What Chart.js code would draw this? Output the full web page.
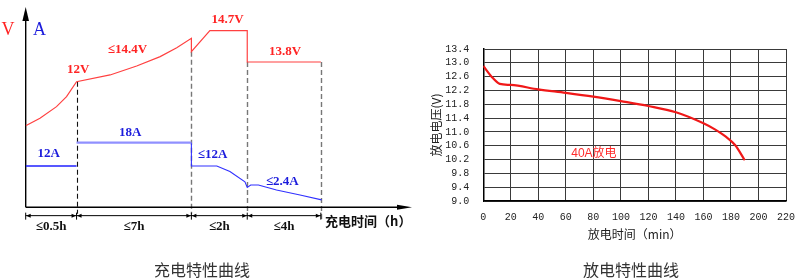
<!DOCTYPE html>
<html>
<head>
<meta charset="utf-8">
<script src="https://cdn.jsdelivr.net/npm/chart.js@4.4.0/dist/chart.umd.min.js"></script>
<style>
  body { margin: 0; background: #fff; width: 795px; height: 280px; position: relative; overflow: hidden; }
  #charge { position: absolute; left: 0; top: 0; }
  #discharge { position: absolute; left: 420px; top: 0; }
  .cap { position: absolute; top: 257px; font: 16px "Noto Sans CJK SC"; color: #333; transform: translateX(-50%); white-space: nowrap; }
</style>
</head>
<body>
<canvas id="charge" width="420" height="280"></canvas>
<canvas id="discharge" width="375" height="280"></canvas>
<div class="cap" style="left:202px">充电特性曲线</div>
<div class="cap" style="left:631px">放电特性曲线</div>
<script>
// ---- left: charging schematic (x / y in schematic units, not to scale) ----
const phaseEnds = [0, 13.2, 43.0, 57.5, 76.6];
const phaseLabels = ['≤0.5h', '≤7h', '≤2h', '≤4h'];

const voltX = [0, 3.7, 8.0, 10.6, 13.2, 21.9, 28.8, 34.9, 39.2, 43.0, 43.0, 47.8, 57.5, 57.5, 76.6];
const voltY = [40.9, 44.7, 50.5, 55.5, 63.0, 66.4, 70.9, 75.6, 80.1, 84.8, 78.1, 88.6, 88.6, 72.9, 72.9];

const amp12X = [0, 13.2];
const amp12Y = [20.7, 20.7];
const amp18X = [13.2, 43.0];
const amp18Y = [32.4, 32.4];
const ampTailX = [43.0, 43.0, 49.6, 53.0, 56.9, 57.5, 58.4, 60.4, 65.1, 71.2, 76.8];
const ampTailY = [32.4, 20.7, 20.7, 17.9, 12.8, 10.0, 11.2, 11.2, 8.7, 6.2, 3.7];

// ---- right: discharge curve ----
const dischargeMin = [0, 6, 12, 20, 40, 60, 80, 100, 120, 140, 160, 168, 176, 183, 190];
const dischargeV = [12.91, 12.6, 12.39, 12.36, 12.23, 12.13, 12.02, 11.89, 11.75, 11.57, 11.25, 11.08, 10.87, 10.62, 10.18];
const minTicks = [0, 20, 40, 60, 80, 100, 120, 140, 160, 180, 200, 220];
const voltTicks = [9.0, 9.4, 9.8, 10.2, 10.6, 11.0, 11.4, 11.8, 12.2, 12.6, 13.0, 13.4];

const RED = '#ff2424';
const BLUE = '#1c1cdc';

const toPts = (xs, ys) => xs.map((x, i) => ({ x: x, y: ys[i] }));

// text annotations on the schematic: [text, x, y, colour, font]
const chargeNotes = [
  ['V', -4.6, 89.0, RED, '18px "Liberation Serif"'],
  ['A', 3.6, 89.0, BLUE, '18px "Liberation Serif"'],
  ['12V', 13.6, 68.9, RED, 'bold 13px "Liberation Serif"'],
  ['≤14.4V', 26.4, 78.9, RED, 'bold 13px "Liberation Serif"'],
  ['14.7V', 52.4, 94.0, RED, 'bold 13px "Liberation Serif"'],
  ['13.8V', 67.3, 77.9, RED, 'bold 13px "Liberation Serif"'],
  ['18A', 27.1, 37.5, BLUE, 'bold 13px "Liberation Serif"'],
  ['12A', 6.0, 27.0, BLUE, 'bold 13px "Liberation Serif"'],
  ['≤12A', 48.5, 26.5, BLUE, 'bold 13px "Liberation Serif"'],
  ['≤2.4A', 66.6, 12.7, BLUE, 'bold 13px "Liberation Serif"']
];

const schematicPlugin = {
  id: 'schematic',
  beforeDatasetsDraw(chart) {
    const { ctx, scales: { x, y }, chartArea } = chart;
    const x0 = x.getPixelForValue(0), y0 = y.getPixelForValue(0);
    const dimY = y.getPixelForValue(-4.2);
    ctx.save();
    // dashed phase boundaries
    phaseEnds.slice(1).forEach((b, i) => {
      const tops = voltY.filter((v, k) => voltX[k] === b);
      const top = Math.min.apply(null, tops);
      ctx.beginPath();
      ctx.setLineDash([5, 3]);
      ctx.strokeStyle = i === 0 ? '#111' : '#777';
      ctx.lineWidth = i === 0 ? 1.1 : 1.4;
      const px = Math.round(x.getPixelForValue(b)) + 0.5;
      ctx.moveTo(px, y.getPixelForValue(top));
      ctx.lineTo(px, i === 3 ? dimY + 5 : dimY - 2);
      ctx.stroke();
    });
    ctx.setLineDash([]);
    // axes
    ctx.strokeStyle = '#000';
    ctx.fillStyle = '#000';
    ctx.lineWidth = 1.4;
    ctx.beginPath();
    ctx.moveTo(x0, y0);
    ctx.lineTo(x0, chartArea.top + 10);
    ctx.moveTo(x0, y0);
    ctx.lineTo(chartArea.right - 10, y0);
    ctx.stroke();
    ctx.beginPath();
    ctx.moveTo(x0, chartArea.top - 1);
    ctx.lineTo(x0 - 3.3, chartArea.top + 13);
    ctx.lineTo(x0 + 3.3, chartArea.top + 13);
    ctx.closePath();
    ctx.fill();
    ctx.beginPath();
    ctx.moveTo(chartArea.right + 1, y0);
    ctx.lineTo(chartArea.right - 14, y0 - 2.5);
    ctx.lineTo(chartArea.right - 14, y0 + 2.5);
    ctx.closePath();
    ctx.fill();
    // dimension line below the axis
    ctx.lineWidth = 1;
    ctx.beginPath();
    ctx.moveTo(x0, dimY);
    ctx.lineTo(x.getPixelForValue(phaseEnds[phaseEnds.length - 1]), dimY);
    ctx.stroke();
    phaseEnds.forEach((b, i) => {
      const px = x.getPixelForValue(b);
      ctx.beginPath();
      ctx.moveTo(px, dimY - 3);
      ctx.lineTo(px, dimY + 4);
      ctx.stroke();
      if (i > 0) {
        ctx.beginPath();
        ctx.moveTo(px - 0.5, dimY);
        ctx.lineTo(px - 5, dimY - 2);
        ctx.lineTo(px - 5, dimY + 2);
        ctx.closePath();
        ctx.fill();
      }
      if (i < phaseEnds.length - 1) {
        ctx.beginPath();
        ctx.moveTo(px + 0.5, dimY);
        ctx.lineTo(px + 5, dimY - 2);
        ctx.lineTo(px + 5, dimY + 2);
        ctx.closePath();
        ctx.fill();
      }
    });
    ctx.restore();
  },
  afterDraw(chart) {
    const { ctx, scales: { x, y } } = chart;
    ctx.save();
    ctx.textAlign = 'center';
    ctx.textBaseline = 'middle';
    chargeNotes.forEach(n => {
      ctx.fillStyle = n[3];
      ctx.font = n[4];
      ctx.fillText(n[0], x.getPixelForValue(n[1]), y.getPixelForValue(n[2]));
    });
    ctx.fillStyle = '#111';
    ctx.font = 'bold 13px "Liberation Serif"';
    phaseLabels.forEach((t, i) => {
      const mid = (phaseEnds[i] + phaseEnds[i + 1]) / 2;
      ctx.fillText(t, x.getPixelForValue(mid), y.getPixelForValue(-9.6));
    });
    ctx.textAlign = 'left';
    ctx.font = 'bold 13px "Noto Sans CJK SC"';
    ctx.fillText('充电时间（h）', x.getPixelForValue(77.7), y.getPixelForValue(-6.9));
    ctx.restore();
  }
};

new Chart(document.getElementById('charge'), {
  type: 'line',
  data: {
    datasets: [
      { data: toPts(voltX, voltY), borderColor: '#ff4040', borderWidth: 1.2 },
      { data: toPts(amp12X, amp12Y), borderColor: '#2020ff', borderWidth: 1.6 },
      { data: toPts(amp18X, amp18Y), borderColor: '#9090ff', borderWidth: 2.2 },
      { data: toPts(ampTailX, ampTailY), borderColor: '#3030ff', borderWidth: 1.1 }
    ]
  },
  options: {
    responsive: false,
    animation: false,
    events: [],
    elements: { point: { radius: 0 }, line: { tension: 0 } },
    layout: { padding: { left: 25.7, right: 9, top: 8, bottom: 52.8 } },
    plugins: { legend: { display: false }, tooltip: { enabled: false } },
    scales: {
      x: { type: 'linear', display: false, min: 0, max: 100 },
      y: { type: 'linear', display: false, min: -10, max: 100 }
    }
  },
  plugins: [schematicPlugin]
});

const curveLabel = {
  id: 'curveLabel',
  afterDatasetsDraw(chart) {
    const { ctx, scales: { x, y } } = chart;
    ctx.save();
    ctx.fillStyle = '#ff2a2a';
    ctx.font = '12px "Liberation Sans", "Noto Sans CJK SC"';
    ctx.textAlign = 'center';
    ctx.textBaseline = 'middle';
    ctx.fillText('40A放电', x.getPixelForValue(80.4), y.getPixelForValue(10.36));
    ctx.restore();
  }
};

const tickFont = { family: '"Liberation Mono", monospace', size: 10 };

new Chart(document.getElementById('discharge'), {
  type: 'line',
  data: {
    datasets: [{
      data: toPts(dischargeMin, dischargeV),
      borderColor: '#f01818',
      borderWidth: 2.2,
      pointRadius: 0,
      cubicInterpolationMode: 'monotone'
    }]
  },
  options: {
    responsive: false,
    animation: false,
    events: [],
    layout: { padding: { left: 0, right: 9, top: 49, bottom: 0 } },
    plugins: { legend: { display: false }, tooltip: { enabled: false } },
    scales: {
      x: {
        type: 'linear',
        min: minTicks[0],
        max: minTicks[minTicks.length - 1],
        afterBuildTicks: s => { s.ticks = minTicks.map(v => ({ value: v })); },
        afterFit: s => { s.height = 79; s.paddingLeft = 0; s.paddingRight = 0; },
        ticks: { font: tickFont, color: '#222', padding: 10, maxRotation: 0, autoSkip: false },
        grid: { color: '#3a3a3a', lineWidth: 1, drawTicks: false },
        border: { color: '#000', width: 1.5 },
        title: {
          display: true,
          text: '放电时间（min）',
          font: { family: '"Noto Sans CJK SC"', size: 12 },
          color: '#222',
          padding: { top: 0, bottom: 38 }
        }
      },
      y: {
        type: 'linear',
        min: voltTicks[0],
        max: voltTicks[voltTicks.length - 1],
        afterBuildTicks: s => { s.ticks = voltTicks.map(v => ({ value: v })); },
        afterFit: s => { s.width = 63.3; s.paddingTop = 0; s.paddingBottom = 0; },
        ticks: { font: tickFont, color: '#222', padding: 14, autoSkip: false, callback: v => v.toFixed(1) },
        grid: { color: '#3a3a3a', lineWidth: 1, drawTicks: false },
        border: { color: '#000', width: 1.5 },
        title: {
          display: true,
          text: '放电电压(V)',
          font: { family: '"Noto Sans CJK SC"', size: 12 },
          color: '#222',
          padding: { top: 9, bottom: 0 }
        }
      }
    }
  },
  plugins: [curveLabel]
});
</script>
</body>
</html>
